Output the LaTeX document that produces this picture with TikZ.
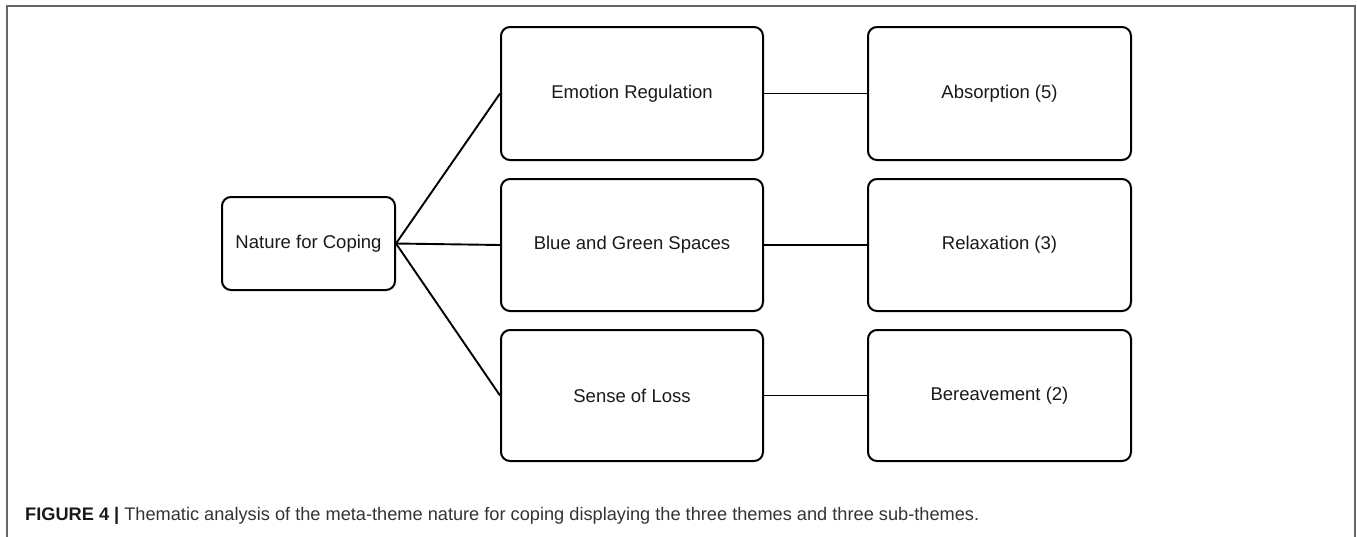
\documentclass[tikz,border=0pt]{standalone}
\usepackage{fontspec}
\setmainfont{Liberation Sans}
\begin{document}
\begin{tikzpicture}[x=1pt,y=-1pt,
  box/.style={draw=black, line width=2pt, rounded corners=9pt, inner sep=0pt,
    font=\fontsize{18.5}{22}\selectfont, text=black!90},
  link/.style={draw=black, line width=1.9pt}]
\useasboundingbox (0,0) rectangle (1357,536);
\draw[line width=1.6pt, draw=black!60] (7,537) -- (7,6) -- (1355,6) -- (1355,537);

\node[box, minimum width=173pt, minimum height=93pt] (nat) at (308.5,243.5) {Nature for Coping};

\node[box, minimum width=262pt, minimum height=133pt] (emo) at (632,93.5) {Emotion Regulation};
\node[box, minimum width=262pt, minimum height=132pt] (blu) at (632,245) {Blue and Green Spaces};
\node[box, minimum width=262pt, minimum height=131pt] (sen) at (632,395.5) {Sense of Loss};

\node[box, minimum width=263pt, minimum height=133pt] (abs) at (999.5,93.5) {Absorption (5)};
\node[box, minimum width=263pt, minimum height=132pt] (rel) at (999.5,245) {Relaxation (3)};
\node[box, minimum width=263pt, minimum height=131pt] (ber) at (999.5,395.5) {Bereavement (2)};

\draw[link] (nat.east) -- (emo.west);
\draw[link] (nat.east) -- (blu.west);
\draw[link] (nat.east) -- (sen.west);
\draw[link] (emo.east) -- (abs.west);
\draw[link] (blu.east) -- (rel.west);
\draw[link] (sen.east) -- (ber.west);

\node[anchor=base west, inner sep=0pt, font=\fontsize{18.2}{21}\selectfont, text=black!80] (cap) at (25,520)
  {\textbf{\textcolor{black!90}{FIGURE 4 |}} Thematic analysis of the meta-theme nature for coping displaying the three themes and three sub-themes.};
\end{tikzpicture}
\end{document}
